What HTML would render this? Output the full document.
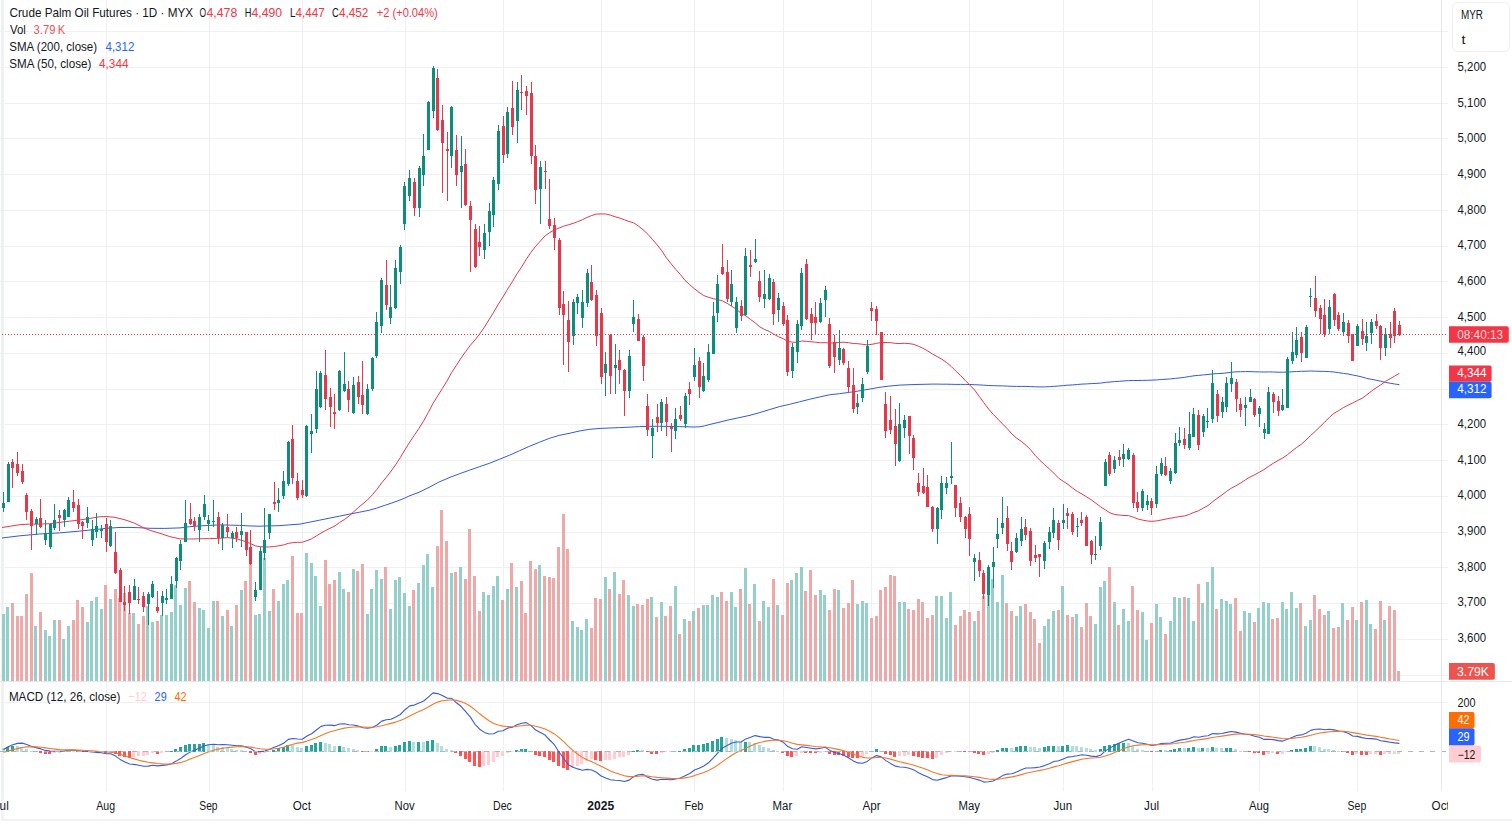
<!DOCTYPE html><html><head><meta charset="utf-8"><style>html,body{margin:0;padding:0;background:#fff;}svg{display:block;}text{font-family:"Liberation Sans",sans-serif;}</style></head><body>
<svg width="1512" height="828" viewBox="0 0 1512 828">
<defs><clipPath id="chart"><rect x="0" y="0" width="1441" height="681"/></clipPath><clipPath id="macd"><rect x="0" y="682" width="1441" height="109"/></clipPath><clipPath id="taxis"><rect x="0" y="792" width="1448" height="27"/></clipPath></defs>
<rect width="1512" height="828" fill="#fff"/>
<rect x="1" y="819" width="1511" height="2" fill="#F1F2F4"/>
<rect x="1" y="0" width="3" height="821" fill="#F1F2F4"/>
<path d="M0 31.5H1448M0 67.5H1448M0 103.5H1448M0 138.5H1448M0 174.5H1448M0 210.5H1448M0 246.5H1448M0 281.5H1448M0 317.5H1448M0 353.5H1448M0 389.5H1448M0 424.5H1448M0 460.5H1448M0 496.5H1448M0 532.5H1448M0 567.5H1448M0 603.5H1448M0 639.5H1448M0 675.5H1448M0 702.5H1448M2.5 0V791M106.5 0V791M209.5 0V791M302.5 0V791M405.5 0V791M503.5 0V791M601.5 0V791M694.5 0V791M783.5 0V791M871.5 0V791M969.5 0V791M1063.5 0V791M1152.5 0V791M1259.5 0V791M1357.5 0V791" stroke="#EFF0F2" stroke-width="1" fill="none" shape-rendering="crispEdges"/>
<g clip-path="url(#chart)" shape-rendering="crispEdges">
<path d="M2 614h3v67h-3zM6 607h3v74h-3zM34 626h3v55h-3zM44 630h3v51h-3zM48 636h3v45h-3zM53 620h3v61h-3zM62 639h3v42h-3zM67 626h3v55h-3zM86 622h3v59h-3zM90 601h3v80h-3zM95 597h3v84h-3zM100 609h3v72h-3zM109 599h3v82h-3zM132 613h3v68h-3zM146 606h3v75h-3zM151 622h3v59h-3zM160 615h3v66h-3zM165 615h3v66h-3zM170 612h3v69h-3zM174 585h3v96h-3zM179 605h3v76h-3zM184 588h3v93h-3zM198 608h3v73h-3zM202 610h3v71h-3zM207 628h3v53h-3zM212 601h3v80h-3zM221 616h3v65h-3zM230 626h3v55h-3zM240 590h3v91h-3zM254 615h3v66h-3zM258 614h3v67h-3zM263 558h3v123h-3zM268 611h3v70h-3zM277 601h3v80h-3zM282 584h3v97h-3zM286 580h3v101h-3zM305 553h3v128h-3zM310 563h3v118h-3zM314 576h3v105h-3zM319 606h3v75h-3zM338 572h3v109h-3zM342 589h3v92h-3zM352 569h3v112h-3zM366 614h3v67h-3zM370 589h3v92h-3zM375 570h3v111h-3zM380 579h3v102h-3zM389 609h3v72h-3zM394 580h3v101h-3zM398 577h3v104h-3zM403 593h3v88h-3zM408 606h3v75h-3zM417 583h3v98h-3zM422 565h3v116h-3zM426 554h3v127h-3zM431 587h3v94h-3zM450 573h3v108h-3zM459 567h3v114h-3zM482 592h3v89h-3zM487 595h3v86h-3zM492 586h3v95h-3zM496 576h3v105h-3zM506 589h3v92h-3zM515 587h3v94h-3zM538 565h3v116h-3zM571 621h3v60h-3zM576 627h3v54h-3zM580 630h3v51h-3zM585 619h3v62h-3zM604 577h3v104h-3zM613 572h3v109h-3zM627 595h3v86h-3zM632 606h3v75h-3zM650 597h3v84h-3zM660 602h3v79h-3zM674 586h3v95h-3zM683 619h3v62h-3zM692 611h3v70h-3zM702 605h3v76h-3zM706 605h3v76h-3zM711 595h3v86h-3zM716 597h3v84h-3zM730 592h3v89h-3zM734 607h3v74h-3zM744 568h3v113h-3zM753 584h3v97h-3zM762 601h3v80h-3zM767 607h3v74h-3zM776 605h3v76h-3zM790 580h3v101h-3zM795 573h3v108h-3zM800 567h3v114h-3zM819 590h3v91h-3zM823 595h3v86h-3zM837 590h3v91h-3zM856 604h3v77h-3zM861 601h3v80h-3zM865 603h3v78h-3zM898 602h3v79h-3zM903 602h3v79h-3zM935 596h3v85h-3zM940 596h3v85h-3zM945 618h3v63h-3zM949 592h3v89h-3zM973 621h3v60h-3zM987 594h3v87h-3zM991 579h3v102h-3zM996 602h3v79h-3zM1001 575h3v106h-3zM1015 616h3v65h-3zM1019 606h3v75h-3zM1043 626h3v55h-3zM1047 619h3v62h-3zM1052 611h3v70h-3zM1061 586h3v95h-3zM1075 614h3v67h-3zM1094 624h3v57h-3zM1099 587h3v94h-3zM1103 581h3v100h-3zM1113 602h3v79h-3zM1122 609h3v72h-3zM1127 621h3v60h-3zM1141 612h3v69h-3zM1145 640h3v41h-3zM1155 604h3v77h-3zM1159 617h3v64h-3zM1169 621h3v60h-3zM1173 597h3v84h-3zM1178 598h3v83h-3zM1187 598h3v83h-3zM1192 621h3v60h-3zM1201 603h3v78h-3zM1206 582h3v99h-3zM1211 567h3v114h-3zM1220 599h3v82h-3zM1225 601h3v80h-3zM1229 604h3v77h-3zM1243 611h3v70h-3zM1248 613h3v68h-3zM1257 608h3v73h-3zM1262 602h3v79h-3zM1267 603h3v78h-3zM1281 602h3v79h-3zM1285 609h3v72h-3zM1290 592h3v89h-3zM1295 608h3v73h-3zM1304 626h3v55h-3zM1309 620h3v61h-3zM1327 611h3v70h-3zM1341 603h3v78h-3zM1355 620h3v61h-3zM1365 600h3v81h-3zM1369 624h3v57h-3zM1383 620h3v61h-3z" fill="#95CFC9"/>
<path d="M11 603h3v78h-3zM16 616h3v65h-3zM20 616h3v65h-3zM25 594h3v87h-3zM30 573h3v108h-3zM39 612h3v69h-3zM58 620h3v61h-3zM72 620h3v61h-3zM76 600h3v81h-3zM81 607h3v74h-3zM104 585h3v96h-3zM114 589h3v92h-3zM118 598h3v83h-3zM123 593h3v88h-3zM128 613h3v68h-3zM137 624h3v57h-3zM142 616h3v65h-3zM156 621h3v60h-3zM188 581h3v100h-3zM193 602h3v79h-3zM216 601h3v80h-3zM226 610h3v71h-3zM235 605h3v76h-3zM244 581h3v100h-3zM249 563h3v118h-3zM272 589h3v92h-3zM291 556h3v125h-3zM296 613h3v68h-3zM300 613h3v68h-3zM324 560h3v121h-3zM328 584h3v97h-3zM333 580h3v101h-3zM347 592h3v89h-3zM356 571h3v110h-3zM361 564h3v117h-3zM384 567h3v114h-3zM412 590h3v91h-3zM436 546h3v135h-3zM440 510h3v171h-3zM445 541h3v140h-3zM454 572h3v109h-3zM464 579h3v102h-3zM468 529h3v152h-3zM473 576h3v105h-3zM478 611h3v70h-3zM501 600h3v81h-3zM510 563h3v118h-3zM520 581h3v100h-3zM524 613h3v68h-3zM529 561h3v120h-3zM534 569h3v112h-3zM543 576h3v105h-3zM548 577h3v104h-3zM552 578h3v103h-3zM557 547h3v134h-3zM562 514h3v167h-3zM566 549h3v132h-3zM590 628h3v53h-3zM594 598h3v83h-3zM599 599h3v82h-3zM608 589h3v92h-3zM618 594h3v87h-3zM622 580h3v101h-3zM636 604h3v77h-3zM641 605h3v76h-3zM646 599h3v82h-3zM655 617h3v64h-3zM664 616h3v65h-3zM669 606h3v75h-3zM678 634h3v47h-3zM688 621h3v60h-3zM697 608h3v73h-3zM720 592h3v89h-3zM725 601h3v80h-3zM739 589h3v92h-3zM748 604h3v77h-3zM758 621h3v60h-3zM772 579h3v102h-3zM781 615h3v66h-3zM786 583h3v98h-3zM804 591h3v90h-3zM809 570h3v111h-3zM814 595h3v86h-3zM828 610h3v71h-3zM833 589h3v92h-3zM842 608h3v73h-3zM847 603h3v78h-3zM851 580h3v101h-3zM870 618h3v63h-3zM875 616h3v65h-3zM879 590h3v91h-3zM884 587h3v94h-3zM889 575h3v106h-3zM893 576h3v105h-3zM907 609h3v72h-3zM912 610h3v71h-3zM917 599h3v82h-3zM921 602h3v79h-3zM926 618h3v63h-3zM931 615h3v66h-3zM954 625h3v56h-3zM959 616h3v65h-3zM963 610h3v71h-3zM968 612h3v69h-3zM977 611h3v70h-3zM982 596h3v85h-3zM1005 603h3v78h-3zM1010 611h3v70h-3zM1024 604h3v77h-3zM1029 612h3v69h-3zM1033 619h3v62h-3zM1038 643h3v38h-3zM1057 610h3v71h-3zM1066 615h3v66h-3zM1071 617h3v64h-3zM1080 627h3v54h-3zM1085 603h3v78h-3zM1089 616h3v65h-3zM1108 567h3v114h-3zM1117 625h3v56h-3zM1131 586h3v95h-3zM1136 610h3v71h-3zM1150 623h3v58h-3zM1164 634h3v47h-3zM1183 597h3v84h-3zM1197 584h3v97h-3zM1215 609h3v72h-3zM1234 598h3v83h-3zM1239 631h3v50h-3zM1253 622h3v59h-3zM1271 619h3v62h-3zM1276 618h3v63h-3zM1299 603h3v78h-3zM1313 595h3v86h-3zM1318 609h3v72h-3zM1323 615h3v66h-3zM1332 628h3v53h-3zM1337 627h3v54h-3zM1346 620h3v61h-3zM1351 607h3v74h-3zM1360 602h3v79h-3zM1374 629h3v52h-3zM1379 601h3v80h-3zM1388 606h3v75h-3zM1393 610h3v71h-3zM1397 671h3v10h-3z" fill="#EFA8A8"/>
</g>
<g clip-path="url(#chart)" fill="none" stroke-width="1" stroke-linejoin="round">
<polyline points="2.0,538.0 19.8,535.8 39.7,534.0 59.5,532.9 79.4,531.1 99.2,529.1 109.1,528.1 119.0,527.5 129.0,527.4 138.9,527.7 150.0,528.3 164.9,528.4 179.8,527.9 189.7,526.7 199.6,525.9 209.5,525.4 219.4,524.9 229.4,525.1 239.3,525.4 249.2,525.9 259.1,526.2 269.0,525.9 279.0,525.7 288.9,524.9 300.0,524.1 309.9,522.1 319.8,520.1 329.8,518.1 339.7,516.1 349.6,514.1 359.5,512.2 369.4,510.2 376.4,508.2 384.3,505.5 391.3,503.2 399.2,500.3 404.2,498.3 409.1,496.0 419.0,492.3 429.0,487.4 438.9,482.1 450.0,477.3 459.9,473.6 469.8,470.1 479.8,466.6 489.7,463.2 499.6,459.2 509.5,455.2 519.4,450.8 529.4,446.3 539.3,442.3 549.2,438.4 559.1,435.4 569.0,433.4 579.0,431.1 588.9,429.4 600.0,428.4 619.8,427.6 639.7,426.6 649.6,426.3 659.5,426.3 679.4,426.6 694.2,427.0 699.2,426.8 704.2,426.0 709.1,424.6 719.0,422.3 729.0,419.8 738.9,417.7 750.0,415.3 759.9,412.5 769.8,409.5 779.8,406.5 789.7,404.3 799.6,401.8 809.5,399.3 819.4,397.0 829.4,394.8 839.3,393.7 849.2,392.4 859.1,390.9 869.0,389.2 879.0,387.4 888.9,386.1 900.0,385.1 915.0,384.5 932.5,384.1 937.2,384.1 941.9,384.2 946.6,384.2 951.2,384.3 955.9,384.4 960.6,384.4 965.2,384.4 969.9,384.5 974.6,384.7 979.2,384.9 983.9,385.2 988.6,385.5 993.2,385.7 997.9,385.8 1002.6,385.9 1007.2,386.1 1011.9,386.3 1016.6,386.4 1021.2,386.4 1025.9,386.4 1030.6,386.6 1035.3,386.8 1039.9,386.9 1044.6,386.9 1049.3,386.7 1053.9,386.3 1058.6,386.0 1063.3,385.6 1067.9,385.2 1072.6,384.9 1077.3,384.5 1082.0,384.1 1086.6,383.9 1091.3,383.6 1096.0,383.4 1100.6,383.1 1105.3,382.4 1110.0,382.0 1114.6,381.6 1119.3,381.3 1124.0,380.9 1128.6,380.6 1133.3,380.5 1138.0,380.5 1142.6,380.4 1147.3,380.3 1152.0,380.1 1156.6,379.9 1161.3,379.5 1166.0,379.2 1170.7,378.9 1175.3,378.4 1180.0,377.9 1184.7,377.3 1189.3,376.5 1194.0,375.8 1198.7,375.4 1203.3,374.9 1208.0,374.5 1212.7,373.9 1217.3,373.6 1222.0,373.4 1226.7,372.9 1231.3,372.3 1236.0,371.8 1240.7,371.7 1245.3,371.6 1250.0,371.6 1254.7,371.8 1259.3,371.9 1264.0,372.0 1268.7,371.9 1273.4,372.0 1278.0,372.2 1282.7,372.2 1287.4,372.1 1292.0,371.8 1296.7,371.5 1301.4,371.3 1306.0,371.2 1310.7,371.0 1315.4,371.2 1320.0,371.3 1324.7,371.4 1329.4,371.6 1334.0,372.0 1338.7,372.7 1343.4,373.4 1348.1,374.0 1352.7,375.0 1357.4,375.9 1362.1,377.0 1366.7,378.4 1371.4,379.3 1376.1,380.2 1380.7,381.2 1385.4,382.4 1390.1,383.2 1394.7,384.0 1399.4,384.7" stroke="#3558E0"/>
<polyline points="2.0,527.5 19.8,524.7 29.8,524.1 39.7,524.1 49.6,523.7 59.5,522.4 69.4,521.2 79.4,520.0 89.3,518.5 99.2,516.8 106.2,516.5 114.1,517.2 124.0,519.5 133.9,522.9 143.8,527.9 150.0,530.3 159.9,533.3 169.8,536.6 179.8,538.8 189.7,539.0 199.6,538.8 209.5,538.6 219.4,538.3 228.0,537.6 232.3,538.2 236.9,538.9 241.6,540.3 246.3,541.9 250.9,543.8 255.6,545.9 260.3,546.7 264.9,547.0 269.6,546.9 274.3,546.5 278.9,545.8 283.6,544.9 288.3,543.4 292.9,542.6 297.6,542.4 302.3,542.2 307.0,540.6 311.6,538.8 316.3,536.0 321.0,533.1 325.6,530.5 330.3,528.2 335.0,525.9 339.6,522.4 344.3,519.6 349.0,516.1 353.6,511.8 358.3,507.6 363.0,503.7 367.6,499.8 372.3,494.9 377.0,489.2 381.7,482.9 386.3,477.3 391.0,471.2 395.7,464.7 400.3,457.6 405.0,449.7 409.7,442.1 414.3,435.4 419.0,428.3 423.7,420.9 428.3,412.4 433.0,403.4 437.7,395.9 442.4,388.4 447.0,381.0 451.7,372.4 456.4,365.4 461.0,358.1 465.7,351.5 470.4,345.2 475.0,339.9 479.7,333.9 484.4,327.2 489.0,319.7 493.7,312.2 498.4,304.1 503.0,296.9 507.7,289.0 512.4,281.6 517.0,273.8 521.7,266.8 526.4,259.1 531.0,252.3 535.7,246.2 540.4,241.0 545.1,235.8 549.7,232.6 554.4,229.9 559.1,228.0 563.7,226.2 568.4,224.8 573.1,223.4 577.7,221.6 582.4,219.7 587.1,217.4 591.7,215.5 596.4,214.1 601.1,213.9 605.8,214.0 610.4,215.1 615.1,216.8 619.8,218.1 624.4,219.8 629.1,221.5 633.8,222.9 638.4,226.0 643.1,229.8 647.8,234.2 652.4,239.4 657.1,244.8 661.8,250.8 666.4,257.8 671.1,263.8 675.8,269.4 680.5,274.7 685.1,280.5 689.8,284.8 694.5,288.8 699.1,292.4 703.8,295.6 708.5,297.3 713.1,298.6 717.8,299.6 722.5,300.9 727.1,303.3 731.8,306.3 736.5,309.3 741.1,313.3 745.8,315.9 750.5,319.4 755.1,322.8 759.8,326.8 764.5,329.5 769.1,331.3 773.8,334.2 778.5,336.7 783.2,338.7 787.8,341.4 792.5,342.2 797.2,342.3 801.8,341.0 806.5,341.3 811.2,341.8 815.8,342.2 820.5,342.8 825.2,342.6 829.8,343.2 834.5,342.8 839.2,342.5 843.9,342.2 848.5,342.7 853.2,343.5 857.9,343.7 862.5,344.3 867.2,344.9 871.9,344.3 876.5,343.4 881.2,342.4 885.9,342.5 890.5,342.6 895.2,343.4 899.9,343.5 904.5,343.3 909.2,343.6 913.9,344.4 918.5,346.3 923.2,348.3 927.9,351.1 932.5,354.0 937.2,356.6 941.9,359.2 946.6,362.6 951.2,366.4 955.9,371.1 960.6,375.5 965.2,380.4 969.9,385.1 974.6,390.0 979.2,396.3 983.9,402.8 988.6,409.0 993.2,414.3 997.9,419.1 1002.6,424.0 1007.2,428.6 1011.9,433.9 1016.6,438.2 1021.2,441.3 1025.9,445.1 1030.6,449.8 1035.3,455.5 1039.9,460.3 1044.6,464.7 1049.3,468.9 1053.9,473.2 1058.6,478.2 1063.3,481.3 1067.9,484.4 1072.6,488.1 1077.3,491.4 1082.0,494.1 1086.6,496.8 1091.3,499.9 1096.0,503.3 1100.6,506.8 1105.3,509.8 1110.0,512.9 1114.6,514.5 1119.3,515.0 1124.0,515.5 1128.6,515.6 1133.3,517.2 1138.0,519.0 1142.6,520.1 1147.3,521.0 1152.0,521.3 1156.6,520.9 1161.3,520.0 1166.0,519.0 1170.7,518.2 1175.3,517.4 1180.0,516.5 1184.7,515.9 1189.3,514.4 1194.0,512.4 1198.7,510.7 1203.3,508.2 1208.0,505.5 1212.7,501.7 1217.3,498.2 1222.0,494.9 1226.7,491.3 1231.3,488.2 1236.0,485.7 1240.7,483.0 1245.3,479.9 1250.0,477.0 1254.7,474.8 1259.3,472.2 1264.0,469.6 1268.7,466.3 1273.4,463.2 1278.0,460.5 1282.7,458.0 1287.4,454.8 1292.0,451.0 1296.7,447.4 1301.4,444.2 1306.0,440.0 1310.7,435.4 1315.4,431.2 1320.0,426.7 1324.7,422.2 1329.4,417.3 1334.0,413.3 1338.7,410.6 1343.4,407.6 1348.1,405.1 1352.7,403.1 1357.4,400.5 1362.1,398.3 1366.7,394.9 1371.4,391.2 1376.1,387.9 1380.7,384.9 1385.4,381.4 1390.1,378.7 1394.7,376.1 1399.4,373.3" stroke="#E23A4C"/>
</g>
<g clip-path="url(#chart)" shape-rendering="crispEdges">
<path d="M3 492h1v20h-1zM8 462h1v40h-1zM36 517h1v18h-1zM45 520h1v25h-1zM50 524h1v25h-1zM54 504h1v26h-1zM64 509h1v18h-1zM68 497h1v20h-1zM87 507h1v21h-1zM92 520h1v26h-1zM96 513h1v25h-1zM101 525h1v13h-1zM110 520h1v27h-1zM134 579h1v21h-1zM148 592h1v33h-1zM152 581h1v17h-1zM162 591h1v25h-1zM166 589h1v15h-1zM171 576h1v23h-1zM176 557h1v31h-1zM180 540h1v30h-1zM185 500h1v42h-1zM199 514h1v28h-1zM204 495h1v25h-1zM208 515h1v16h-1zM213 500h1v27h-1zM222 523h1v27h-1zM232 531h1v17h-1zM241 513h1v34h-1zM255 582h1v19h-1zM260 547h1v43h-1zM264 508h1v52h-1zM269 514h1v25h-1zM278 488h1v24h-1zM283 471h1v28h-1zM288 441h1v45h-1zM306 425h1v72h-1zM311 414h1v39h-1zM316 371h1v62h-1zM320 371h1v37h-1zM339 370h1v41h-1zM344 352h1v40h-1zM353 377h1v37h-1zM367 384h1v31h-1zM372 357h1v34h-1zM376 312h1v46h-1zM381 278h1v55h-1zM390 285h1v39h-1zM395 260h1v49h-1zM400 245h1v39h-1zM404 182h1v48h-1zM409 170h1v31h-1zM419 166h1v51h-1zM423 134h1v52h-1zM428 101h1v49h-1zM433 66h1v52h-1zM451 106h1v62h-1zM461 136h1v72h-1zM484 224h1v35h-1zM489 203h1v43h-1zM493 177h1v50h-1zM498 125h1v65h-1zM507 107h1v51h-1zM517 82h1v61h-1zM540 161h1v63h-1zM573 299h1v46h-1zM577 294h1v20h-1zM582 290h1v38h-1zM587 269h1v38h-1zM605 352h1v44h-1zM615 344h1v50h-1zM629 350h1v48h-1zM633 300h1v32h-1zM652 419h1v39h-1zM661 399h1v32h-1zM675 408h1v31h-1zM685 393h1v35h-1zM694 348h1v33h-1zM703 363h1v29h-1zM708 344h1v38h-1zM713 302h1v52h-1zM717 275h1v47h-1zM731 270h1v36h-1zM736 297h1v36h-1zM745 248h1v68h-1zM755 239h1v24h-1zM764 270h1v38h-1zM769 274h1v26h-1zM778 293h1v29h-1zM792 343h1v35h-1zM797 320h1v43h-1zM801 268h1v62h-1zM820 298h1v25h-1zM825 286h1v31h-1zM839 330h1v35h-1zM857 394h1v20h-1zM862 378h1v24h-1zM867 340h1v34h-1zM899 403h1v59h-1zM904 415h1v23h-1zM937 507h1v37h-1zM941 476h1v43h-1zM946 477h1v17h-1zM951 442h1v42h-1zM974 554h1v27h-1zM988 565h1v41h-1zM993 547h1v41h-1zM997 518h1v30h-1zM1002 497h1v37h-1zM1016 533h1v20h-1zM1021 517h1v29h-1zM1044 541h1v28h-1zM1049 527h1v22h-1zM1053 508h1v30h-1zM1063 504h1v25h-1zM1077 518h1v19h-1zM1095 536h1v24h-1zM1100 517h1v33h-1zM1105 459h1v27h-1zM1114 456h1v17h-1zM1123 444h1v23h-1zM1128 448h1v12h-1zM1142 489h1v22h-1zM1147 495h1v15h-1zM1156 466h1v42h-1zM1161 458h1v18h-1zM1170 468h1v16h-1zM1175 433h1v41h-1zM1179 427h1v19h-1zM1189 412h1v38h-1zM1193 408h1v29h-1zM1203 414h1v23h-1zM1207 408h1v20h-1zM1212 370h1v53h-1zM1222 397h1v21h-1zM1226 377h1v35h-1zM1231 362h1v30h-1zM1245 397h1v29h-1zM1250 389h1v13h-1zM1259 406h1v21h-1zM1264 423h1v16h-1zM1268 387h1v47h-1zM1282 389h1v22h-1zM1287 357h1v51h-1zM1292 332h1v32h-1zM1296 327h1v31h-1zM1306 325h1v33h-1zM1310 288h1v19h-1zM1329 300h1v34h-1zM1343 313h1v23h-1zM1357 324h1v22h-1zM1366 322h1v29h-1zM1371 319h1v25h-1zM1385 328h1v28h-1zM2 503h3v5h-3zM7 464h3v38h-3zM35 519h3v5h-3zM44 533h3v7h-3zM49 524h3v23h-3zM53 520h3v8h-3zM63 510h3v10h-3zM67 500h3v17h-3zM86 517h3v6h-3zM91 529h3v11h-3zM95 526h3v6h-3zM100 529h3v2h-3zM109 526h3v20h-3zM133 586h3v14h-3zM147 594h3v10h-3zM151 584h3v13h-3zM161 596h3v7h-3zM165 598h3v2h-3zM170 584h3v15h-3zM175 558h3v23h-3zM179 544h3v17h-3zM184 523h3v19h-3zM198 517h3v13h-3zM203 504h3v13h-3zM207 520h3v4h-3zM212 521h3v1h-3zM221 525h3v13h-3zM231 533h3v5h-3zM240 531h3v4h-3zM254 590h3v7h-3zM259 551h3v39h-3zM263 540h3v13h-3zM268 514h3v19h-3zM277 500h3v3h-3zM282 481h3v15h-3zM287 442h3v42h-3zM305 426h3v70h-3zM310 431h3v3h-3zM315 389h3v40h-3zM319 373h3v34h-3zM338 371h3v39h-3zM343 384h3v7h-3zM352 385h3v28h-3zM366 389h3v25h-3zM371 358h3v31h-3zM375 322h3v34h-3zM380 280h3v46h-3zM389 307h3v11h-3zM394 268h3v40h-3zM399 247h3v25h-3zM403 186h3v38h-3zM408 178h3v18h-3zM418 168h3v40h-3zM422 156h3v19h-3zM427 102h3v48h-3zM432 68h3v43h-3zM450 107h3v49h-3zM460 166h3v6h-3zM483 233h3v17h-3zM488 211h3v21h-3zM492 180h3v35h-3zM497 131h3v53h-3zM506 112h3v42h-3zM516 90h3v31h-3zM539 167h3v22h-3zM572 302h3v34h-3zM576 297h3v6h-3zM581 302h3v16h-3zM586 273h3v30h-3zM604 364h3v9h-3zM614 365h3v3h-3zM628 356h3v35h-3zM632 317h3v7h-3zM651 428h3v8h-3zM660 402h3v21h-3zM674 419h3v12h-3zM684 396h3v28h-3zM693 365h3v12h-3zM702 376h3v15h-3zM707 352h3v28h-3zM712 316h3v38h-3zM716 284h3v29h-3zM730 284h3v18h-3zM735 302h3v26h-3zM744 256h3v59h-3zM754 259h3v3h-3zM763 294h3v5h-3zM768 278h3v21h-3zM777 298h3v12h-3zM791 347h3v24h-3zM796 324h3v28h-3zM800 273h3v53h-3zM819 303h3v19h-3zM824 290h3v10h-3zM838 348h3v12h-3zM856 403h3v4h-3zM861 384h3v14h-3zM866 346h3v26h-3zM898 424h3v37h-3zM903 420h3v8h-3zM936 508h3v21h-3zM940 483h3v27h-3zM945 483h3v5h-3zM950 476h3v2h-3zM973 558h3v4h-3zM987 567h3v28h-3zM992 562h3v5h-3zM996 534h3v5h-3zM1001 523h3v5h-3zM1015 538h3v14h-3zM1020 529h3v12h-3zM1043 543h3v18h-3zM1048 532h3v10h-3zM1052 520h3v13h-3zM1062 520h3v3h-3zM1076 526h3v1h-3zM1094 554h3v1h-3zM1099 522h3v24h-3zM1104 462h3v24h-3zM1113 460h3v9h-3zM1122 454h3v5h-3zM1127 450h3v9h-3zM1141 491h3v17h-3zM1146 501h3v4h-3zM1155 474h3v30h-3zM1160 463h3v11h-3zM1169 471h3v10h-3zM1174 443h3v30h-3zM1178 440h3v3h-3zM1188 434h3v14h-3zM1192 414h3v23h-3zM1202 416h3v16h-3zM1206 421h3v1h-3zM1211 383h3v36h-3zM1221 402h3v10h-3zM1225 383h3v24h-3zM1230 378h3v6h-3zM1244 405h3v3h-3zM1249 397h3v5h-3zM1258 408h3v6h-3zM1263 429h3v4h-3zM1267 392h3v42h-3zM1281 405h3v5h-3zM1286 359h3v49h-3zM1291 352h3v9h-3zM1295 340h3v15h-3zM1305 327h3v31h-3zM1309 296h3v1h-3zM1328 307h3v22h-3zM1342 322h3v10h-3zM1356 326h3v20h-3zM1365 336h3v7h-3zM1370 322h3v11h-3zM1384 334h3v14h-3z" fill="#0C8F7A"/>
<path d="M12 459h1v29h-1zM17 452h1v24h-1zM22 464h1v20h-1zM26 493h1v27h-1zM31 509h1v41h-1zM40 499h1v29h-1zM59 510h1v21h-1zM73 490h1v22h-1zM78 499h1v30h-1zM82 521h1v18h-1zM106 518h1v34h-1zM115 532h1v42h-1zM120 568h1v34h-1zM124 586h1v25h-1zM129 585h1v29h-1zM138 587h1v17h-1zM143 592h1v20h-1zM157 591h1v22h-1zM190 503h1v22h-1zM194 517h1v14h-1zM218 512h1v32h-1zM227 514h1v23h-1zM236 527h1v15h-1zM246 532h1v24h-1zM250 530h1v35h-1zM274 482h1v28h-1zM292 425h1v59h-1zM297 473h1v27h-1zM302 480h1v18h-1zM325 350h1v60h-1zM330 388h1v39h-1zM334 394h1v35h-1zM348 381h1v31h-1zM358 376h1v28h-1zM362 361h1v53h-1zM386 260h1v50h-1zM414 178h1v38h-1zM437 69h1v62h-1zM442 105h1v88h-1zM447 132h1v69h-1zM456 135h1v51h-1zM465 149h1v57h-1zM470 201h1v71h-1zM475 224h1v44h-1zM479 226h1v30h-1zM503 116h1v47h-1zM512 81h1v54h-1zM521 75h1v35h-1zM526 86h1v29h-1zM531 82h1v82h-1zM535 145h1v59h-1zM545 161h1v28h-1zM549 179h1v50h-1zM554 218h1v32h-1zM559 238h1v77h-1zM563 291h1v74h-1zM568 301h1v71h-1zM591 265h1v36h-1zM596 290h1v56h-1zM601 308h1v76h-1zM610 334h1v60h-1zM619 350h1v34h-1zM624 369h1v47h-1zM638 314h1v27h-1zM643 335h1v46h-1zM647 394h1v42h-1zM657 404h1v28h-1zM666 397h1v39h-1zM671 423h1v29h-1zM680 406h1v15h-1zM689 382h1v23h-1zM699 357h1v41h-1zM722 244h1v31h-1zM727 260h1v42h-1zM741 300h1v21h-1zM750 250h1v27h-1zM759 271h1v31h-1zM773 279h1v46h-1zM783 302h1v24h-1zM787 315h1v61h-1zM806 259h1v61h-1zM811 308h1v32h-1zM815 302h1v32h-1zM829 318h1v50h-1zM834 335h1v38h-1zM843 348h1v17h-1zM848 361h1v32h-1zM853 368h1v45h-1zM871 302h1v19h-1zM876 306h1v29h-1zM881 332h1v48h-1zM885 392h1v46h-1zM890 396h1v38h-1zM895 409h1v57h-1zM909 416h1v38h-1zM913 435h1v35h-1zM918 473h1v23h-1zM923 468h1v26h-1zM927 475h1v32h-1zM932 506h1v26h-1zM955 485h1v32h-1zM960 497h1v25h-1zM965 516h1v22h-1zM969 507h1v49h-1zM979 552h1v25h-1zM983 570h1v29h-1zM1007 506h1v45h-1zM1011 542h1v28h-1zM1025 519h1v21h-1zM1030 528h1v38h-1zM1035 545h1v17h-1zM1039 554h1v23h-1zM1058 520h1v30h-1zM1067 508h1v21h-1zM1072 512h1v23h-1zM1081 512h1v14h-1zM1086 515h1v31h-1zM1091 540h1v24h-1zM1109 452h1v24h-1zM1119 450h1v16h-1zM1133 453h1v55h-1zM1137 492h1v20h-1zM1151 498h1v17h-1zM1165 457h1v19h-1zM1184 428h1v21h-1zM1198 410h1v40h-1zM1217 390h1v32h-1zM1236 379h1v33h-1zM1240 398h1v19h-1zM1254 398h1v19h-1zM1273 392h1v21h-1zM1278 396h1v20h-1zM1301 332h1v30h-1zM1315 276h1v41h-1zM1320 305h1v29h-1zM1324 299h1v38h-1zM1334 293h1v33h-1zM1338 312h1v19h-1zM1348 320h1v23h-1zM1352 334h1v27h-1zM1362 319h1v26h-1zM1376 314h1v15h-1zM1380 325h1v35h-1zM1390 322h1v26h-1zM1394 308h1v35h-1zM1399 321h1v15h-1zM11 462h3v6h-3zM16 464h3v9h-3zM21 471h3v11h-3zM25 495h3v17h-3zM30 511h3v15h-3zM39 518h3v9h-3zM58 515h3v3h-3zM72 502h3v6h-3zM77 505h3v19h-3zM81 522h3v4h-3zM105 524h3v18h-3zM114 552h3v21h-3zM119 570h3v32h-3zM123 602h3v3h-3zM128 592h3v11h-3zM137 599h3v1h-3zM142 596h3v11h-3zM156 607h3v4h-3zM189 519h3v5h-3zM193 521h3v5h-3zM217 517h3v21h-3zM226 527h3v5h-3zM235 532h3v6h-3zM245 532h3v18h-3zM249 547h3v17h-3zM273 502h3v2h-3zM291 439h3v39h-3zM296 481h3v17h-3zM301 490h3v5h-3zM324 375h3v24h-3zM329 397h3v10h-3zM333 412h3v2h-3zM347 389h3v11h-3zM357 382h3v15h-3zM361 395h3v10h-3zM385 285h3v20h-3zM413 182h3v26h-3zM436 78h3v52h-3zM441 120h3v23h-3zM446 149h3v2h-3zM455 150h3v25h-3zM464 164h3v41h-3zM469 206h3v14h-3zM474 229h3v38h-3zM478 242h3v5h-3zM502 126h3v29h-3zM511 108h3v19h-3zM520 92h3v1h-3zM525 91h3v5h-3zM530 93h3v63h-3zM534 156h3v34h-3zM544 171h3v1h-3zM548 219h3v7h-3zM553 225h3v13h-3zM558 240h3v68h-3zM562 304h3v11h-3zM567 320h3v22h-3zM590 282h3v18h-3zM595 295h3v41h-3zM600 313h3v64h-3zM609 335h3v41h-3zM618 360h3v10h-3zM623 370h3v21h-3zM637 319h3v22h-3zM642 337h3v29h-3zM646 406h3v24h-3zM656 417h3v6h-3zM665 404h3v18h-3zM670 427h3v2h-3zM679 415h3v4h-3zM688 389h3v5h-3zM698 361h3v26h-3zM721 267h3v7h-3zM726 272h3v27h-3zM740 306h3v10h-3zM749 265h3v2h-3zM758 281h3v16h-3zM772 282h3v32h-3zM782 306h3v18h-3zM786 320h3v52h-3zM805 264h3v55h-3zM810 314h3v9h-3zM814 317h3v6h-3zM828 324h3v42h-3zM833 342h3v15h-3zM842 349h3v14h-3zM847 368h3v19h-3zM852 385h3v24h-3zM870 308h3v3h-3zM875 309h3v12h-3zM880 332h3v48h-3zM884 404h3v27h-3zM889 420h3v10h-3zM894 426h3v18h-3zM908 416h3v20h-3zM912 438h3v20h-3zM917 483h3v9h-3zM922 486h3v7h-3zM926 487h3v20h-3zM931 507h3v22h-3zM954 485h3v23h-3zM959 503h3v14h-3zM964 517h3v12h-3zM968 514h3v25h-3zM978 560h3v11h-3zM982 573h3v21h-3zM1006 518h3v26h-3zM1010 551h3v11h-3zM1024 527h3v8h-3zM1029 531h3v30h-3zM1034 555h3v3h-3zM1038 554h3v3h-3zM1057 523h3v17h-3zM1066 513h3v3h-3zM1071 514h3v18h-3zM1080 520h3v3h-3zM1085 517h3v29h-3zM1090 541h3v14h-3zM1108 455h3v19h-3zM1118 457h3v3h-3zM1132 455h3v48h-3zM1136 502h3v6h-3zM1150 501h3v7h-3zM1164 466h3v9h-3zM1183 439h3v6h-3zM1197 415h3v30h-3zM1216 394h3v22h-3zM1235 382h3v17h-3zM1239 404h3v6h-3zM1253 399h3v16h-3zM1272 394h3v8h-3zM1277 401h3v10h-3zM1300 337h3v16h-3zM1314 298h3v13h-3zM1319 308h3v11h-3zM1323 315h3v19h-3zM1333 294h3v26h-3zM1337 315h3v14h-3zM1347 323h3v13h-3zM1351 334h3v27h-3zM1361 331h3v8h-3zM1375 321h3v5h-3zM1379 326h3v22h-3zM1389 334h3v4h-3zM1393 311h3v25h-3zM1398 325h3v10h-3z" fill="#E6384A"/>
</g>
<line x1="0" y1="334.5" x2="1447" y2="334.5" stroke="#F23645" stroke-width="1" stroke-dasharray="1 2" stroke-dashoffset="-2" shape-rendering="crispEdges"/>
<g clip-path="url(#macd)">

<path d="M6 747h3v5h-3zM11 746h3v6h-3zM170 751h3v1h-3zM174 749h3v3h-3zM179 747h3v5h-3zM184 745h3v7h-3zM188 744h3v8h-3zM193 744h3v8h-3zM198 744h3v8h-3zM202 743h3v9h-3zM272 750h3v2h-3zM277 748h3v4h-3zM282 747h3v5h-3zM286 745h3v7h-3zM305 746h3v6h-3zM310 745h3v7h-3zM314 743h3v9h-3zM319 742h3v10h-3zM338 746h3v6h-3zM375 749h3v3h-3zM380 746h3v6h-3zM384 746h3v6h-3zM394 746h3v6h-3zM398 745h3v7h-3zM403 742h3v10h-3zM408 741h3v11h-3zM417 742h3v10h-3zM426 741h3v11h-3zM431 740h3v12h-3zM515 750h3v2h-3zM520 749h3v3h-3zM524 749h3v3h-3zM632 751h3v1h-3zM636 750h3v2h-3zM678 751h3v1h-3zM683 749h3v3h-3zM688 748h3v4h-3zM692 745h3v7h-3zM697 745h3v7h-3zM702 744h3v8h-3zM706 743h3v9h-3zM711 741h3v11h-3zM716 739h3v13h-3zM720 737h3v15h-3zM744 742h3v10h-3zM870 751h3v1h-3zM875 749h3v3h-3zM996 750h3v2h-3zM1001 748h3v4h-3zM1005 748h3v4h-3zM1015 747h3v5h-3zM1019 746h3v6h-3zM1024 746h3v6h-3zM1043 747h3v5h-3zM1047 746h3v6h-3zM1052 746h3v6h-3zM1061 746h3v6h-3zM1066 745h3v7h-3zM1099 749h3v3h-3zM1103 746h3v6h-3zM1108 745h3v7h-3zM1113 744h3v8h-3zM1117 743h3v9h-3zM1122 743h3v9h-3zM1155 751h3v1h-3zM1159 750h3v2h-3zM1169 750h3v2h-3zM1173 749h3v3h-3zM1178 748h3v4h-3zM1187 748h3v4h-3zM1192 747h3v5h-3zM1201 748h3v4h-3zM1211 747h3v5h-3zM1225 748h3v4h-3zM1229 748h3v4h-3zM1290 750h3v2h-3zM1295 749h3v3h-3zM1299 749h3v3h-3zM1304 748h3v4h-3zM1309 746h3v6h-3z" fill="#26A69A" shape-rendering="crispEdges"/>
<path d="M2 748h3v4h-3zM16 746h3v6h-3zM20 747h3v5h-3zM25 749h3v3h-3zM30 751h3v1h-3zM207 744h3v8h-3zM212 745h3v7h-3zM216 747h3v5h-3zM221 747h3v5h-3zM226 748h3v4h-3zM230 749h3v3h-3zM235 750h3v2h-3zM240 750h3v2h-3zM291 745h3v7h-3zM296 747h3v5h-3zM300 748h3v4h-3zM324 743h3v9h-3zM328 744h3v8h-3zM333 746h3v6h-3zM342 747h3v5h-3zM347 748h3v4h-3zM352 749h3v3h-3zM356 750h3v2h-3zM389 747h3v5h-3zM412 742h3v10h-3zM422 742h3v10h-3zM436 743h3v9h-3zM440 746h3v6h-3zM445 749h3v3h-3zM450 750h3v2h-3zM641 750h3v2h-3zM725 738h3v14h-3zM730 739h3v13h-3zM734 740h3v12h-3zM739 742h3v10h-3zM748 742h3v10h-3zM753 743h3v9h-3zM758 745h3v7h-3zM762 747h3v5h-3zM767 748h3v4h-3zM772 750h3v2h-3zM776 751h3v1h-3zM879 751h3v1h-3zM1010 748h3v4h-3zM1029 747h3v5h-3zM1033 747h3v5h-3zM1038 748h3v4h-3zM1057 746h3v6h-3zM1071 746h3v6h-3zM1075 746h3v6h-3zM1080 747h3v5h-3zM1085 748h3v4h-3zM1089 749h3v3h-3zM1094 750h3v2h-3zM1127 743h3v9h-3zM1131 746h3v6h-3zM1136 749h3v3h-3zM1141 750h3v2h-3zM1145 751h3v1h-3zM1164 750h3v2h-3zM1183 748h3v4h-3zM1197 748h3v4h-3zM1206 748h3v4h-3zM1215 748h3v4h-3zM1220 748h3v4h-3zM1234 749h3v3h-3zM1239 751h3v1h-3zM1313 746h3v6h-3zM1318 747h3v5h-3zM1323 749h3v3h-3zM1327 749h3v3h-3zM1332 750h3v2h-3zM1337 751h3v1h-3z" fill="#B2DFDB" shape-rendering="crispEdges"/>
<path d="M53 751h3v2h-3zM58 751h3v2h-3zM62 751h3v1h-3zM67 751h3v1h-3zM72 751h3v1h-3zM86 751h3v1h-3zM109 751h3v2h-3zM132 751h3v6h-3zM137 751h3v5h-3zM142 751h3v5h-3zM146 751h3v4h-3zM151 751h3v2h-3zM160 751h3v2h-3zM165 751h3v1h-3zM258 751h3v3h-3zM263 751h3v2h-3zM268 751h3v1h-3zM370 751h3v1h-3zM482 751h3v15h-3zM487 751h3v14h-3zM492 751h3v11h-3zM496 751h3v6h-3zM501 751h3v5h-3zM506 751h3v2h-3zM510 751h3v1h-3zM571 751h3v17h-3zM576 751h3v15h-3zM580 751h3v13h-3zM585 751h3v10h-3zM590 751h3v8h-3zM604 751h3v9h-3zM608 751h3v9h-3zM613 751h3v8h-3zM618 751h3v6h-3zM622 751h3v6h-3zM627 751h3v4h-3zM660 751h3v2h-3zM664 751h3v1h-3zM669 751h3v1h-3zM674 751h3v1h-3zM795 751h3v5h-3zM800 751h3v2h-3zM819 751h3v2h-3zM823 751h3v1h-3zM861 751h3v6h-3zM865 751h3v3h-3zM898 751h3v5h-3zM903 751h3v5h-3zM907 751h3v4h-3zM935 751h3v7h-3zM940 751h3v4h-3zM945 751h3v2h-3zM949 751h3v1h-3zM954 751h3v1h-3zM987 751h3v3h-3zM991 751h3v2h-3zM1267 751h3v3h-3zM1271 751h3v2h-3zM1281 751h3v3h-3zM1285 751h3v1h-3zM1355 751h3v3h-3zM1369 751h3v3h-3zM1374 751h3v3h-3zM1383 751h3v3h-3zM1388 751h3v3h-3zM1393 751h3v3h-3zM1397 751h3v3h-3z" fill="#FFCDD2" shape-rendering="crispEdges"/>
<path d="M34 751h3v1h-3zM39 751h3v2h-3zM44 751h3v3h-3zM48 751h3v3h-3zM76 751h3v1h-3zM81 751h3v1h-3zM90 751h3v1h-3zM95 751h3v1h-3zM100 751h3v1h-3zM104 751h3v2h-3zM114 751h3v3h-3zM118 751h3v5h-3zM123 751h3v6h-3zM128 751h3v7h-3zM156 751h3v3h-3zM244 751h3v1h-3zM249 751h3v2h-3zM254 751h3v4h-3zM361 751h3v1h-3zM366 751h3v1h-3zM454 751h3v2h-3zM459 751h3v5h-3zM464 751h3v8h-3zM468 751h3v11h-3zM473 751h3v15h-3zM478 751h3v16h-3zM529 751h3v1h-3zM534 751h3v4h-3zM538 751h3v5h-3zM543 751h3v6h-3zM548 751h3v9h-3zM552 751h3v11h-3zM557 751h3v15h-3zM562 751h3v17h-3zM566 751h3v19h-3zM594 751h3v9h-3zM599 751h3v10h-3zM646 751h3v1h-3zM650 751h3v3h-3zM655 751h3v3h-3zM781 751h3v2h-3zM786 751h3v5h-3zM790 751h3v6h-3zM804 751h3v2h-3zM809 751h3v2h-3zM814 751h3v2h-3zM828 751h3v3h-3zM833 751h3v4h-3zM837 751h3v4h-3zM842 751h3v5h-3zM847 751h3v6h-3zM851 751h3v7h-3zM856 751h3v7h-3zM884 751h3v3h-3zM889 751h3v4h-3zM893 751h3v6h-3zM912 751h3v5h-3zM917 751h3v6h-3zM921 751h3v7h-3zM926 751h3v7h-3zM931 751h3v8h-3zM959 751h3v1h-3zM963 751h3v1h-3zM968 751h3v1h-3zM973 751h3v2h-3zM977 751h3v3h-3zM982 751h3v4h-3zM1150 751h3v1h-3zM1243 751h3v1h-3zM1248 751h3v1h-3zM1253 751h3v2h-3zM1257 751h3v2h-3zM1262 751h3v4h-3zM1276 751h3v3h-3zM1341 751h3v1h-3zM1346 751h3v2h-3zM1351 751h3v4h-3zM1360 751h3v4h-3zM1365 751h3v4h-3zM1379 751h3v4h-3z" fill="#FF5252" shape-rendering="crispEdges"/>
<polyline points="3.5,749.5 8.2,746.7 12.8,744.7 17.5,743.4 22.2,743.1 26.8,744.5 31.5,746.4 36.2,747.6 40.8,748.9 45.5,750.4 50.2,751.0 54.9,751.3 59.5,751.4 64.2,751.0 68.9,750.2 73.5,750.0 78.2,750.7 82.9,751.3 87.5,751.4 92.2,752.0 96.9,752.4 101.5,752.8 106.2,753.8 110.9,753.7 115.5,756.1 120.2,759.4 124.9,762.1 129.6,764.0 134.2,764.4 138.9,765.3 143.6,766.3 148.2,766.1 152.9,765.3 157.6,765.9 162.2,765.4 166.9,764.9 171.6,763.7 176.2,761.1 180.9,758.2 185.6,754.8 190.2,752.1 194.9,750.1 199.6,748.0 204.2,745.7 208.9,744.8 213.6,744.2 218.3,744.7 222.9,744.5 227.6,744.8 232.3,745.2 236.9,745.7 241.6,745.9 246.3,747.1 250.9,748.8 255.6,751.6 260.3,751.6 264.9,751.1 269.6,749.2 274.3,747.3 278.9,745.5 283.6,743.2 288.3,739.4 293.0,738.5 297.6,739.0 302.3,739.3 307.0,736.0 311.6,733.8 316.3,730.0 321.0,726.4 325.6,725.3 330.3,725.1 335.0,725.6 339.6,724.0 344.3,723.8 349.0,724.7 353.6,725.0 358.3,726.1 363.0,727.7 367.7,728.3 372.3,727.4 377.0,725.0 381.7,721.1 386.3,719.8 391.0,719.2 395.7,717.0 400.3,714.5 405.0,709.7 409.7,705.9 414.3,705.1 419.0,702.9 423.7,701.0 428.3,697.2 433.0,692.9 437.7,693.6 442.3,695.5 447.0,698.1 451.7,698.3 456.4,702.8 461.0,706.3 465.7,711.7 470.4,717.1 475.0,724.3 479.7,729.2 484.4,732.4 489.0,734.0 493.7,733.8 498.4,731.2 503.0,730.7 507.7,728.1 512.4,727.2 517.0,724.8 521.7,723.3 526.4,722.6 531.1,725.6 535.7,730.1 540.4,732.6 545.1,735.1 549.7,740.0 554.4,744.7 559.1,752.2 563.7,758.5 568.4,764.7 573.1,767.3 577.7,768.9 582.4,770.2 587.1,769.4 591.7,770.0 596.4,772.3 601.1,776.0 605.7,777.9 610.4,779.7 615.1,780.2 619.8,780.5 624.4,781.5 629.1,780.1 633.8,776.5 638.4,774.7 643.1,774.4 647.8,777.3 652.4,779.2 657.1,780.1 661.8,779.3 666.4,779.5 671.1,779.7 675.8,778.9 680.4,778.0 685.1,775.7 689.8,773.5 694.5,770.0 699.1,768.2 703.8,766.0 708.5,762.8 713.1,758.2 717.8,752.8 722.5,748.0 727.1,745.6 731.8,743.0 736.5,742.0 741.1,742.0 745.8,738.9 750.5,737.3 755.1,735.6 759.8,736.6 764.5,737.4 769.2,737.2 773.8,739.2 778.5,740.0 783.2,742.2 787.8,746.6 792.5,748.7 797.2,749.2 801.8,746.8 806.5,747.5 811.2,748.2 815.8,748.9 820.5,748.3 825.2,747.2 829.8,750.4 834.5,752.5 839.2,753.6 843.8,755.3 848.5,757.8 853.2,760.9 857.9,762.9 862.5,763.3 867.2,761.4 871.9,757.9 876.5,755.6 881.2,756.9 885.9,760.6 890.5,763.4 895.2,766.1 899.9,767.0 904.5,767.3 909.2,768.2 913.9,769.9 918.5,772.8 923.2,774.9 927.9,777.0 932.6,779.6 937.2,780.2 941.9,778.9 946.6,777.6 951.2,775.9 955.9,776.0 960.6,776.3 965.2,776.8 969.9,777.5 974.6,778.7 979.2,780.1 983.9,782.1 988.6,781.8 993.2,781.0 997.9,778.5 1002.6,775.6 1007.2,774.1 1011.9,773.8 1016.6,771.9 1021.3,769.7 1025.9,768.0 1030.6,768.0 1035.3,767.6 1039.9,767.0 1044.6,765.6 1049.3,763.7 1053.9,761.5 1058.6,760.7 1063.3,758.9 1067.9,757.1 1072.6,756.5 1077.3,755.7 1081.9,754.8 1086.6,755.3 1091.3,756.1 1096.0,756.6 1100.6,755.3 1105.3,750.9 1110.0,748.1 1114.6,745.2 1119.3,743.0 1124.0,741.0 1128.6,739.3 1133.3,741.0 1138.0,742.8 1142.6,743.3 1147.3,744.3 1152.0,745.5 1156.6,744.7 1161.3,743.5 1166.0,743.3 1170.6,743.1 1175.3,741.4 1180.0,740.1 1184.7,739.4 1189.3,738.5 1194.0,736.7 1198.7,737.2 1203.3,736.2 1208.0,735.8 1212.7,733.6 1217.3,733.9 1222.0,733.5 1226.7,732.4 1231.3,731.5 1236.0,732.1 1240.7,733.4 1245.3,734.3 1250.0,734.8 1254.7,736.3 1259.4,737.3 1264.0,739.4 1268.7,739.2 1273.4,739.6 1278.0,740.6 1282.7,741.1 1287.4,739.2 1292.0,737.4 1296.7,735.5 1301.4,734.9 1306.0,733.2 1310.7,730.4 1315.4,729.2 1320.0,729.0 1324.7,729.8 1329.4,729.3 1334.1,729.9 1338.7,731.0 1343.4,731.7 1348.1,733.2 1352.7,736.0 1357.4,736.4 1362.1,737.6 1366.7,738.5 1371.4,738.6 1376.1,739.1 1380.7,740.8 1385.4,741.4 1390.1,742.2 1394.7,742.9 1399.4,743.4" fill="none" stroke="#3A5BD9" stroke-width="1.1" stroke-linejoin="round"/>
<polyline points="3.5,752.2 8.2,751.1 12.8,749.8 17.5,748.6 22.2,747.5 26.8,746.9 31.5,746.8 36.2,746.9 40.8,747.3 45.5,747.9 50.2,748.5 54.9,749.1 59.5,749.6 64.2,749.9 68.9,749.9 73.5,749.9 78.2,750.1 82.9,750.3 87.5,750.5 92.2,750.8 96.9,751.2 101.5,751.5 106.2,751.9 110.9,752.3 115.5,753.0 120.2,754.3 124.9,755.9 129.6,757.5 134.2,758.9 138.9,760.2 143.6,761.4 148.2,762.3 152.9,762.9 157.6,763.5 162.2,763.9 166.9,764.1 171.6,764.0 176.2,763.4 180.9,762.4 185.6,760.9 190.2,759.1 194.9,757.3 199.6,755.4 204.2,753.5 208.9,751.7 213.6,750.2 218.3,749.1 222.9,748.2 227.6,747.5 232.3,747.1 236.9,746.8 241.6,746.6 246.3,746.7 250.9,747.1 255.6,748.0 260.3,748.7 264.9,749.2 269.6,749.2 274.3,748.8 278.9,748.2 283.6,747.2 288.3,745.6 293.0,744.2 297.6,743.1 302.3,742.4 307.0,741.1 311.6,739.6 316.3,737.7 321.0,735.4 325.6,733.4 330.3,731.8 335.0,730.5 339.6,729.2 344.3,728.1 349.0,727.5 353.6,727.0 358.3,726.8 363.0,727.0 367.7,727.2 372.3,727.3 377.0,726.8 381.7,725.7 386.3,724.5 391.0,723.4 395.7,722.1 400.3,720.6 405.0,718.4 409.7,715.9 414.3,713.8 419.0,711.6 423.7,709.5 428.3,707.0 433.0,704.2 437.7,702.1 442.3,700.8 447.0,700.2 451.7,699.8 456.4,700.4 461.0,701.6 465.7,703.6 470.4,706.3 475.0,709.9 479.7,713.8 484.4,717.5 489.0,720.8 493.7,723.4 498.4,725.0 503.0,726.1 507.7,726.5 512.4,726.7 517.0,726.3 521.7,725.7 526.4,725.1 531.1,725.2 535.7,726.2 540.4,727.5 545.1,729.0 549.7,731.2 554.4,733.9 559.1,737.6 563.7,741.7 568.4,746.3 573.1,750.5 577.7,754.2 582.4,757.4 587.1,759.8 591.7,761.8 596.4,763.9 601.1,766.3 605.7,768.6 610.4,770.9 615.1,772.7 619.8,774.3 624.4,775.7 629.1,776.6 633.8,776.6 638.4,776.2 643.1,775.8 647.8,776.1 652.4,776.8 657.1,777.4 661.8,777.8 666.4,778.1 671.1,778.4 675.8,778.5 680.4,778.4 685.1,777.9 689.8,777.0 694.5,775.6 699.1,774.1 703.8,772.5 708.5,770.5 713.1,768.1 717.8,765.0 722.5,761.6 727.1,758.4 731.8,755.3 736.5,752.6 741.1,750.5 745.8,748.2 750.5,746.0 755.1,743.9 759.8,742.5 764.5,741.4 769.2,740.6 773.8,740.3 778.5,740.3 783.2,740.7 787.8,741.8 792.5,743.2 797.2,744.4 801.8,744.9 806.5,745.4 811.2,746.0 815.8,746.5 820.5,746.9 825.2,747.0 829.8,747.7 834.5,748.6 839.2,749.6 843.8,750.8 848.5,752.2 853.2,753.9 857.9,755.7 862.5,757.2 867.2,758.0 871.9,758.0 876.5,757.5 881.2,757.4 885.9,758.0 890.5,759.1 895.2,760.5 899.9,761.8 904.5,762.9 909.2,764.0 913.9,765.2 918.5,766.7 923.2,768.3 927.9,770.1 932.6,772.0 937.2,773.6 941.9,774.7 946.6,775.3 951.2,775.4 955.9,775.5 960.6,775.7 965.2,775.9 969.9,776.2 974.6,776.7 979.2,777.4 983.9,778.3 988.6,779.0 993.2,779.4 997.9,779.2 1002.6,778.5 1007.2,777.6 1011.9,776.9 1016.6,775.9 1021.3,774.6 1025.9,773.3 1030.6,772.2 1035.3,771.3 1039.9,770.4 1044.6,769.5 1049.3,768.3 1053.9,766.9 1058.6,765.7 1063.3,764.3 1067.9,762.9 1072.6,761.6 1077.3,760.4 1081.9,759.3 1086.6,758.5 1091.3,758.0 1096.0,757.7 1100.6,757.2 1105.3,756.0 1110.0,754.4 1114.6,752.6 1119.3,750.6 1124.0,748.7 1128.6,746.8 1133.3,745.7 1138.0,745.1 1142.6,744.7 1147.3,744.6 1152.0,744.8 1156.6,744.8 1161.3,744.5 1166.0,744.3 1170.6,744.0 1175.3,743.5 1180.0,742.8 1184.7,742.2 1189.3,741.4 1194.0,740.5 1198.7,739.8 1203.3,739.1 1208.0,738.4 1212.7,737.5 1217.3,736.8 1222.0,736.1 1226.7,735.4 1231.3,734.6 1236.0,734.1 1240.7,734.0 1245.3,734.0 1250.0,734.2 1254.7,734.6 1259.4,735.2 1264.0,736.0 1268.7,736.6 1273.4,737.2 1278.0,737.9 1282.7,738.5 1287.4,738.7 1292.0,738.4 1296.7,737.8 1301.4,737.3 1306.0,736.4 1310.7,735.2 1315.4,734.0 1320.0,733.0 1324.7,732.4 1329.4,731.8 1334.1,731.4 1338.7,731.3 1343.4,731.4 1348.1,731.8 1352.7,732.6 1357.4,733.4 1362.1,734.2 1366.7,735.1 1371.4,735.8 1376.1,736.4 1380.7,737.3 1385.4,738.1 1390.1,739.0 1394.7,739.7 1399.4,740.5" fill="none" stroke="#F5782A" stroke-width="1.1" stroke-linejoin="round"/>
</g>
<line x1="0" y1="751.5" x2="1449" y2="751.5" stroke="#B2B5BE" stroke-dasharray="5 6" shape-rendering="crispEdges"/>
<path d="M0 681.5H1512M1441.5 0V791" stroke="#E6E7EA" stroke-width="1" shape-rendering="crispEdges"/>
<text x="1457.5" y="71" font-size="12" fill="#131722" font-weight="normal" textLength="28.6" lengthAdjust="spacingAndGlyphs">5,200</text>
<text x="1457.5" y="107" font-size="12" fill="#131722" font-weight="normal" textLength="28.6" lengthAdjust="spacingAndGlyphs">5,100</text>
<text x="1457.5" y="142" font-size="12" fill="#131722" font-weight="normal" textLength="28.6" lengthAdjust="spacingAndGlyphs">5,000</text>
<text x="1457.5" y="178" font-size="12" fill="#131722" font-weight="normal" textLength="28.6" lengthAdjust="spacingAndGlyphs">4,900</text>
<text x="1457.5" y="214" font-size="12" fill="#131722" font-weight="normal" textLength="28.6" lengthAdjust="spacingAndGlyphs">4,800</text>
<text x="1457.5" y="249" font-size="12" fill="#131722" font-weight="normal" textLength="28.6" lengthAdjust="spacingAndGlyphs">4,700</text>
<text x="1457.5" y="285" font-size="12" fill="#131722" font-weight="normal" textLength="28.6" lengthAdjust="spacingAndGlyphs">4,600</text>
<text x="1457.5" y="321" font-size="12" fill="#131722" font-weight="normal" textLength="28.6" lengthAdjust="spacingAndGlyphs">4,500</text>
<text x="1457.5" y="355" font-size="12" fill="#131722" font-weight="normal" textLength="28.6" lengthAdjust="spacingAndGlyphs">4,400</text>
<text x="1457.5" y="428" font-size="12" fill="#131722" font-weight="normal" textLength="28.6" lengthAdjust="spacingAndGlyphs">4,200</text>
<text x="1457.5" y="464" font-size="12" fill="#131722" font-weight="normal" textLength="28.6" lengthAdjust="spacingAndGlyphs">4,100</text>
<text x="1457.5" y="499" font-size="12" fill="#131722" font-weight="normal" textLength="28.6" lengthAdjust="spacingAndGlyphs">4,000</text>
<text x="1457.5" y="535" font-size="12" fill="#131722" font-weight="normal" textLength="28.6" lengthAdjust="spacingAndGlyphs">3,900</text>
<text x="1457.5" y="571" font-size="12" fill="#131722" font-weight="normal" textLength="28.6" lengthAdjust="spacingAndGlyphs">3,800</text>
<text x="1457.5" y="606" font-size="12" fill="#131722" font-weight="normal" textLength="28.6" lengthAdjust="spacingAndGlyphs">3,700</text>
<text x="1457.5" y="642" font-size="12" fill="#131722" font-weight="normal" textLength="28.6" lengthAdjust="spacingAndGlyphs">3,600</text>
<text x="1457.5" y="706.7" font-size="12" fill="#131722" font-weight="normal" textLength="18" lengthAdjust="spacingAndGlyphs">200</text>
<rect x="1452.5" y="2.5" width="57" height="49" rx="5" fill="#fff" stroke="#ECEEF1"/>
<text x="1461" y="18.8" font-size="12" fill="#131722" font-weight="normal" textLength="22" lengthAdjust="spacingAndGlyphs">MYR</text>
<text x="1461.5" y="43.5" font-size="12" fill="#131722" font-weight="normal" textLength="4" lengthAdjust="spacingAndGlyphs">t</text>
<path d="M1449 326.3H1506.8Q1508.8 326.3 1508.8 328.3V340.7Q1508.8 342.7 1506.8 342.7H1449Z" fill="#F23645"/>
<text x="1457.2" y="338.6" font-size="12" fill="#FDD8DB" font-weight="normal" textLength="46" lengthAdjust="spacingAndGlyphs">08:40:13</text>
<path d="M1449 365.4H1489.6Q1491.6 365.4 1491.6 367.4V379.79999999999995Q1491.6 381.79999999999995 1489.6 381.79999999999995H1449Z" fill="#F23645"/>
<text x="1457.2" y="376.6" font-size="12" fill="#fff" font-weight="normal" textLength="29.4" lengthAdjust="spacingAndGlyphs">4,344</text>
<path d="M1449 381.8H1489.6Q1491.6 381.8 1491.6 383.8V396.3Q1491.6 398.3 1489.6 398.3H1449Z" fill="#2962FF"/>
<text x="1457.2" y="393.0" font-size="12" fill="#fff" font-weight="normal" textLength="29.4" lengthAdjust="spacingAndGlyphs">4,312</text>
<path d="M1449 663.1H1492.9Q1494.9 663.1 1494.9 665.1V677.7Q1494.9 679.7 1492.9 679.7H1449Z" fill="#EF5350"/>
<text x="1457" y="675.6" font-size="12" fill="#fff" font-weight="normal" textLength="32" lengthAdjust="spacingAndGlyphs">3.79K</text>
<path d="M1449 712H1472.5Q1474.5 712 1474.5 714V726.3Q1474.5 728.3 1472.5 728.3H1449Z" fill="#FF6D00"/>
<text x="1457.4" y="724.4" font-size="12" fill="#fff" font-weight="normal" textLength="12.1" lengthAdjust="spacingAndGlyphs">42</text>
<path d="M1449 728.3H1472.5Q1474.5 728.3 1474.5 730.3V743.5999999999999Q1474.5 745.5999999999999 1472.5 745.5999999999999H1449Z" fill="#2962FF"/>
<text x="1457.4" y="741.4" font-size="12" fill="#fff" font-weight="normal" textLength="12.1" lengthAdjust="spacingAndGlyphs">29</text>
<path d="M1449 745.6H1479Q1481 745.6 1481 747.6V760.6Q1481 762.6 1479 762.6H1449Z" fill="#FFCDD2"/>
<text x="1457.8" y="758.9" font-size="12" fill="#131722" font-weight="normal" textLength="17.6" lengthAdjust="spacingAndGlyphs">−12</text>
<g clip-path="url(#taxis)">
<text x="-6.3" y="809.9" font-size="12" fill="#131722" font-weight="normal" textLength="15.1" lengthAdjust="spacingAndGlyphs">Jul</text>
<text x="96.3" y="809.9" font-size="12" fill="#131722" font-weight="normal" textLength="18.8" lengthAdjust="spacingAndGlyphs">Aug</text>
<text x="199.3" y="809.9" font-size="12" fill="#131722" font-weight="normal" textLength="18.3" lengthAdjust="spacingAndGlyphs">Sep</text>
<text x="292.8" y="809.9" font-size="12" fill="#131722" font-weight="normal" textLength="18.1" lengthAdjust="spacingAndGlyphs">Oct</text>
<text x="394.6" y="809.9" font-size="12" fill="#131722" font-weight="normal" textLength="20.1" lengthAdjust="spacingAndGlyphs">Nov</text>
<text x="493.1" y="809.9" font-size="12" fill="#131722" font-weight="normal" textLength="18.8" lengthAdjust="spacingAndGlyphs">Dec</text>
<text x="587.3" y="809.9" font-size="12" fill="#131722" font-weight="bold" textLength="26.9" lengthAdjust="spacingAndGlyphs">2025</text>
<text x="684.6" y="809.9" font-size="12" fill="#131722" font-weight="normal" textLength="18.8" lengthAdjust="spacingAndGlyphs">Feb</text>
<text x="772.6" y="809.9" font-size="12" fill="#131722" font-weight="normal" textLength="19.6" lengthAdjust="spacingAndGlyphs">Mar</text>
<text x="862.5" y="809.9" font-size="12" fill="#131722" font-weight="normal" textLength="18.1" lengthAdjust="spacingAndGlyphs">Apr</text>
<text x="958.5" y="809.9" font-size="12" fill="#131722" font-weight="normal" textLength="21.4" lengthAdjust="spacingAndGlyphs">May</text>
<text x="1053.5" y="809.9" font-size="12" fill="#131722" font-weight="normal" textLength="18.6" lengthAdjust="spacingAndGlyphs">Jun</text>
<text x="1144.1" y="809.9" font-size="12" fill="#131722" font-weight="normal" textLength="15.0" lengthAdjust="spacingAndGlyphs">Jul</text>
<text x="1248.9" y="809.9" font-size="12" fill="#131722" font-weight="normal" textLength="20.1" lengthAdjust="spacingAndGlyphs">Aug</text>
<text x="1347.6" y="809.9" font-size="12" fill="#131722" font-weight="normal" textLength="18.6" lengthAdjust="spacingAndGlyphs">Sep</text>
<text x="1431.6" y="809.9" font-size="12" fill="#131722" font-weight="normal" textLength="18.1" lengthAdjust="spacingAndGlyphs">Oct</text>
</g>
<text x="9.5" y="17" font-size="13" fill="#131722" font-weight="normal" textLength="183.6" lengthAdjust="spacingAndGlyphs">Crude Palm Oil Futures · 1D · MYX</text>
<text x="199.6" y="17" font-size="13" fill="#131722" font-weight="normal" textLength="6.6" lengthAdjust="spacingAndGlyphs">O</text>
<text x="206.5" y="17" font-size="13" fill="#F23645" font-weight="normal" textLength="30.8" lengthAdjust="spacingAndGlyphs">4,478</text>
<text x="244.8" y="17" font-size="13" fill="#131722" font-weight="normal" textLength="6.7" lengthAdjust="spacingAndGlyphs">H</text>
<text x="251.5" y="17" font-size="13" fill="#F23645" font-weight="normal" textLength="30.5" lengthAdjust="spacingAndGlyphs">4,490</text>
<text x="289.9" y="17" font-size="13" fill="#131722" font-weight="normal" textLength="5.5" lengthAdjust="spacingAndGlyphs">L</text>
<text x="295.6" y="17" font-size="13" fill="#F23645" font-weight="normal" textLength="29" lengthAdjust="spacingAndGlyphs">4,447</text>
<text x="332.1" y="17" font-size="13" fill="#131722" font-weight="normal" textLength="6.8" lengthAdjust="spacingAndGlyphs">C</text>
<text x="339" y="17" font-size="13" fill="#F23645" font-weight="normal" textLength="29.3" lengthAdjust="spacingAndGlyphs">4,452</text>
<text x="376.8" y="17" font-size="13" fill="#F23645" font-weight="normal" textLength="60.9" lengthAdjust="spacingAndGlyphs">+2 (+0.04%)</text>
<text x="10.1" y="34" font-size="13" fill="#131722" font-weight="normal" textLength="15.8" lengthAdjust="spacingAndGlyphs">Vol</text>
<text x="33.6" y="34" font-size="13" fill="#EF5350" font-weight="normal" textLength="31.6" lengthAdjust="spacingAndGlyphs">3.79 K</text>
<text x="9.3" y="51" font-size="13" fill="#131722" font-weight="normal" textLength="87.8" lengthAdjust="spacingAndGlyphs">SMA (200, close)</text>
<text x="105.5" y="51" font-size="13" fill="#2962FF" font-weight="normal" textLength="28.8" lengthAdjust="spacingAndGlyphs">4,312</text>
<text x="9.3" y="68" font-size="13" fill="#131722" font-weight="normal" textLength="82" lengthAdjust="spacingAndGlyphs">SMA (50, close)</text>
<text x="99" y="68" font-size="13" fill="#F23645" font-weight="normal" textLength="29.5" lengthAdjust="spacingAndGlyphs">4,344</text>
<text x="8.9" y="700.8" font-size="13" fill="#131722" font-weight="normal" textLength="111.5" lengthAdjust="spacingAndGlyphs">MACD (12, 26, close)</text>
<text x="128.6" y="700.7" font-size="13" fill="#FFCDD2" font-weight="normal" textLength="18.2" lengthAdjust="spacingAndGlyphs">−12</text>
<text x="154.6" y="700.7" font-size="13" fill="#2962FF" font-weight="normal" textLength="12.1" lengthAdjust="spacingAndGlyphs">29</text>
<text x="174.4" y="700.7" font-size="13" fill="#FF6D00" font-weight="normal" textLength="12.1" lengthAdjust="spacingAndGlyphs">42</text>
</svg></body></html>
